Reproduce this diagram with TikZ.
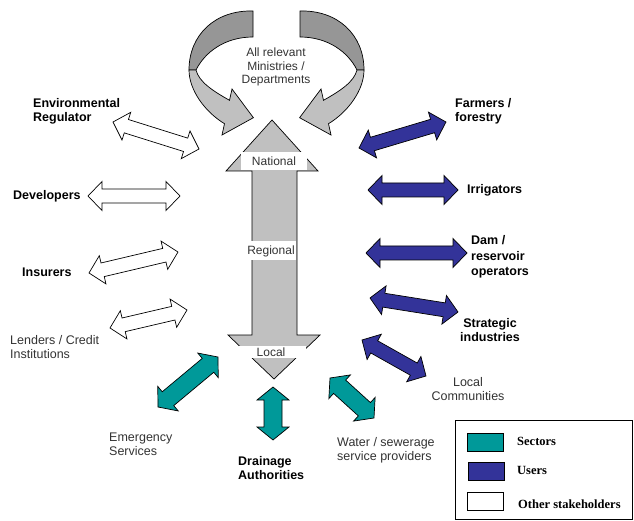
\documentclass[tikz,border=0pt]{standalone}
\usepackage{fontspec}
\setmainfont{Liberation Sans}
\newfontfamily\legfont{Liberation Serif}
\usetikzlibrary{calc}
\definecolor{sectorclr}{RGB}{0,153,153}
\definecolor{userclr}{RGB}{51,51,153}
\definecolor{lightgr}{RGB}{192,192,192}
\definecolor{darkgr}{RGB}{150,150,150}
\newcommand{\blockarrow}[6]{%
  % #1样式 #2起点 #3终点 #4杆半宽 #5箭头半宽 #6箭头长
  \path let \p1 = ($(#3)-(#2)$) in
  \pgfextra{\pgfmathsetmacro{\blkang}{atan2(\y1,\x1)}\xdef\blkang{\blkang}%
    \pgfmathsetmacro{\blklen}{veclen(\x1,\y1)}\xdef\blklen{\blklen}};
  \begin{scope}[shift={(#2)}, rotate=\blkang, x=1pt, y=1pt]
    \draw[#1] (0,0) -- (#6,#5) -- (#6,#4) -- (\blklen-#6,#4) -- (\blklen-#6,#5)
    -- (\blklen,0) -- (\blklen-#6,-#5) -- (\blklen-#6,-#4) -- (#6,-#4) -- (#6,-#5) -- cycle;
  \end{scope}
}

\begin{document}
\begin{tikzpicture}[
  x=1pt, y=-1pt,
  line join=miter,
  outl/.style={draw=black, line width=0.7pt},
  other/.style={outl, fill=white},
  user/.style={outl, fill=userclr},
  sector/.style={outl, fill=sectorclr},
  boldlbl/.style={font=\fontsize{12.5}{14}\selectfont\bfseries, inner sep=0pt, align=left},
  plainlbl/.style={font=\fontsize{12.5}{14}\selectfont, text=black!80, inner sep=0pt, align=left},
  lvl/.style={fill=white, inner sep=1pt, font=\fontsize{12}{13.5}\selectfont, text=black!80},
  legtxt/.style={font=\legfont\fontsize{12.5}{14}\selectfont\bfseries, inner sep=0pt, anchor=west},
  ]
  \useasboundingbox (0,0) rectangle (634,521);

  % 顶部两个弯箭头(右边为左边的镜像)
  \foreach \s/\m in {0/1, 553/-1}
  {
    \begin{scope}[shift={(\s,0)}, xscale=\m]
      \draw[outl, fill=darkgr] (253,11) .. controls (215,10) and (189,35) .. (189,70)
        -- (196,70) .. controls (205,52) and (225,37) .. (253,37) -- cycle;
      \draw[outl, fill=lightgr] (189,70) .. controls (189,90) and (205,112) .. (224.5,123.7)
        -- (222,135) -- (253.4,117.7) -- (232,89) -- (229.5,100.3)
        .. controls (213,91) and (199,82) .. (196,70) -- cycle;
    \end{scope}
  }
  \node[plainlbl, align=center, font=\fontsize{12}{13.5}\selectfont] (minist) at (276,67) {All relevant\\Ministries /\\Departments};

  % 中间的层级箭头
  \draw[outl, fill=lightgr] (272,120) -- (318,171) -- (297,171) -- (297,335) -- (320,335)
    -- (274,379) -- (228,335) -- (252,335) -- (252,171) -- (226,171) -- cycle;
  \node[lvl, minimum width=66, minimum height=18] (national) at (274,161) {National};
  \node[lvl, minimum height=19] (regional) at (271,251) {Regional};
  \node[lvl, minimum width=70, minimum height=12] (local) at (271,352) {Local};

  % 其他相关方
  \foreach \sx/\sy/\ex/\ey in {113/122/199/149, 88/196/180/196, 89/273/178/252, 110/328/187/310}
  {
    \blockarrow{other}{\sx,\sy}{\ex,\ey}{7}{14.5}{14}
  }
  % 用户
  \foreach \sx/\sy/\ex/\ey in {359/148/446/122, 368/190/458/190, 366/253/467/253,
    370/298/458/312, 362/340/426/376}
  {
    \blockarrow{user}{\sx,\sy}{\ex,\ey}{7}{14.5}{14}
  }
  % 部门
  \foreach \sx/\sy/\ex/\ey in {158/407/218/357, 273/387/273/440, 330/378/374/418}
  {
    \blockarrow{sector}{\sx,\sy}{\ex,\ey}{9}{16}{13}
  }

  % 标签
  \node[boldlbl, anchor=west] (envreg) at (33,111.5) {Environmental\\Regulator};
  \node[boldlbl, anchor=west] (devel) at (13,196) {Developers};
  \node[boldlbl, anchor=west] (insur) at (22,272) {Insurers};
  \node[plainlbl, anchor=west] (lenders) at (10,347) {Lenders / Credit\\Institutions};
  \node[boldlbl, anchor=west] (farmers) at (455,111.5) {Farmers /\\forestry};
  \node[boldlbl, anchor=west] (irrig) at (467,190) {Irrigators};
  \node[boldlbl, anchor=west, font=\fontsize{12.5}{15.5}\selectfont\bfseries] (dam) at (471,257) {Dam /\\reservoir\\operators};
  \node[boldlbl, align=center] (strat) at (490,330) {Strategic\\industries};
  \node[plainlbl, align=center] (localcom) at (468,389) {Local\\Communities};
  \node[plainlbl, anchor=west] (emerg) at (109,444) {Emergency\\Services};
  \node[boldlbl, anchor=west] (drain) at (238,468.5) {Drainage\\Authorities};
  \node[plainlbl, anchor=west] (water) at (337,450) {Water / sewerage\\service providers};

  % 图例
  \draw[line width=0.7pt] (455,420) rectangle (632,519);
  \draw[sector] (467,433) rectangle (503,451);
  \draw[user] (468,462) rectangle (504,480);
  \draw[other] (467,492) rectangle (503,510);
  \node[legtxt] (legsec) at (517,441) {Sectors};
  \node[legtxt] (leguse) at (517,470) {Users};
  \node[legtxt] (legoth) at (518,504) {Other stakeholders};
\end{tikzpicture}
\end{document}
